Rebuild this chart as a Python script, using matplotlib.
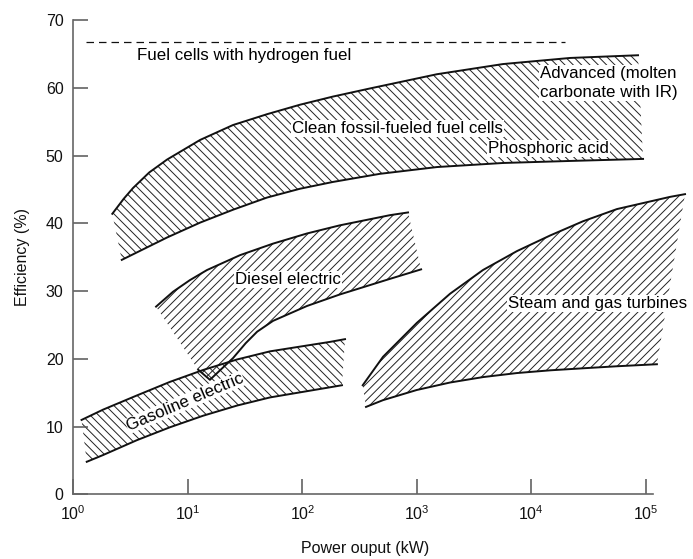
import matplotlib
matplotlib.use("Agg")
import matplotlib.pyplot as plt
from matplotlib.patches import Polygon
from matplotlib.ticker import NullLocator

plt.rcParams["font.family"] = ["Liberation Sans", "DejaVu Sans"]
plt.rcParams["mathtext.default"] = "regular"
plt.rcParams["hatch.linewidth"] = 0.7

# power output (kW) and efficiency (%)
fc_up_x = [2.19, 2.75, 3.32, 4.6, 6.58, 12.8, 24.8, 49.2, 95.5, 185, 390, 1500, 5660, 21800, 85500]
fc_up_y = [41.4, 43.6, 45.2, 47.5, 49.4, 52.3, 54.5, 56.1, 57.5, 58.7, 59.9, 62.0, 63.5, 64.4, 64.8]
fc_lo_x = [2.65, 6.58, 12.8, 24.8, 49.2, 95.5, 185, 476, 1500, 5660, 21800, 94600]
fc_lo_y = [34.6, 37.9, 40.1, 42.0, 43.8, 45.1, 46.1, 47.3, 48.3, 48.9, 49.2, 49.5]

diesel_up_x = [5.28, 7.43, 10.4, 14.7, 28.6, 55.5, 110, 213, 583, 838]
diesel_up_y = [27.7, 29.9, 31.6, 33.1, 35.3, 37.0, 38.5, 39.7, 41.2, 41.6]
diesel_lo_x = [12.3, 15.6, 24.8, 32.0, 40.3, 55.5, 110, 213, 583, 1090]
diesel_lo_y = [18.4, 16.9, 20.1, 22.3, 24.0, 25.6, 27.8, 29.5, 31.8, 33.2]

gas_up_x = [1.18, 1.82, 3.60, 6.99, 13.6, 26.9, 52.2, 175, 236]
gas_up_y = [10.98, 12.5, 14.6, 16.6, 18.35, 19.9, 21.1, 22.5, 22.9]
gas_lo_x = [1.31, 1.82, 3.60, 6.99, 13.6, 26.9, 52.2, 175, 222]
gas_lo_y = [4.8, 5.8, 8.0, 9.9, 11.6, 13.1, 14.3, 15.8, 16.1]

turb_up_x = [337, 507, 1000, 1950, 3780, 7500, 14600, 28300, 56000, 163000, 220000]
turb_up_y = [16.1, 20.3, 25.3, 29.6, 33.1, 35.9, 38.2, 40.3, 42.1, 43.9, 44.3]
turb_lo_x = [360, 507, 1000, 1950, 3780, 7500, 14600, 28300, 56000, 125000]
turb_lo_y = [12.9, 13.9, 15.4, 16.5, 17.3, 17.9, 18.3, 18.6, 18.9, 19.2]

h2_x = [1.29, 19600]
h2_y = [66.8, 66.8]

fig = plt.figure(figsize=(6.93, 5.59), dpi=100)
ax = fig.add_axes([0.1058, 0.1157, 0.8922, 0.8485])
ax.set_xscale("log")
ax.set_xlim(1, 10 ** 5.4)
ax.set_ylim(0, 70)


def band(ux, uy, lx, ly, hatch):
    pts = list(zip(ux, uy)) + list(zip(lx, ly))[::-1]
    ax.add_patch(Polygon(pts, closed=True, facecolor="none", edgecolor="#222222",
                         linewidth=0, hatch=hatch))
    ax.plot(ux, uy, color="#111111", lw=1.4, solid_joinstyle="round")
    ax.plot(lx, ly, color="#111111", lw=1.4, solid_joinstyle="round")


band(fc_up_x, fc_up_y, fc_lo_x, fc_lo_y, "\\" * 4)
band(diesel_up_x, diesel_up_y, diesel_lo_x, diesel_lo_y, "////")
band(gas_up_x, gas_up_y, gas_lo_x, gas_lo_y, "\\" * 4)
band(turb_up_x, turb_up_y, turb_lo_x, turb_lo_y, "////")

ax.plot(h2_x, h2_y, color="#111111", lw=0.9, ls=(0, (6, 4)))

box = dict(facecolor="white", edgecolor="none", pad=0.8)
fs = 12.2
ax.text(3.58, 64.7, "Fuel cells with hydrogen fuel", fontsize=fs, va="center")
ax.text(11900, 60.7, "Advanced (molten\ncarbonate with IR)", fontsize=fs,
        va="center", linespacing=1.35, bbox=box)
ax.text(80.8, 54.0, "Clean fossil-fueled fuel cells", fontsize=fs, va="center", bbox=box)
ax.text(4210, 51.06, "Phosphoric acid", fontsize=fs, va="center", bbox=box)
ax.text(25.8, 31.7, "Diesel electric", fontsize=fs, va="center", bbox=box)
ax.text(6260, 28.2, "Steam and gas turbines", fontsize=fs, va="center", bbox=box)
ax.text(9.46, 13.6, "Gasoline electric", fontsize=fs, va="center", ha="center",
        rotation=23, rotation_mode="anchor",
        bbox=dict(facecolor="white", edgecolor="none", pad=0.3))

for side in ["top", "right"]:
    ax.spines[side].set_visible(False)
for side in ["left", "bottom"]:
    ax.spines[side].set_color("#666666")
    ax.spines[side].set_linewidth(1.2)
ax.spines["bottom"].set_bounds(1, 1.15e5)

ax.set_xticks([1, 10, 100, 1000, 1e4, 1e5])
ax.xaxis.set_minor_locator(NullLocator())
ax.set_yticks(range(0, 71, 10))
ax.tick_params(direction="in", length=11, width=1.1, color="#555555",
               labelsize=11.5, labelcolor="#111111", pad=7)

ax.set_xlabel("Power ouput (kW)", fontsize=11.5, color="#111111")
ax.set_ylabel("Efficiency (%)", fontsize=11.5, color="#111111")
ax.xaxis.label.set_va("center")
ax.yaxis.label.set_va("center")
ax.xaxis.set_label_coords(0.472, -0.115)
ax.yaxis.set_label_coords(-0.083, 0.5)

fig.savefig("out.png", dpi=100)
